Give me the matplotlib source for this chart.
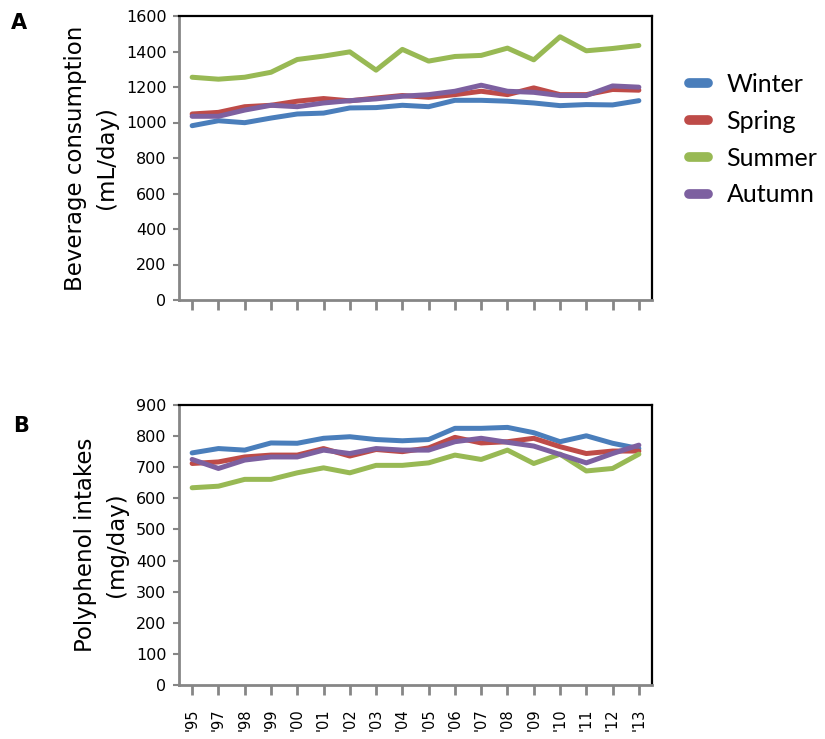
import matplotlib
matplotlib.use('Agg')
import matplotlib.pyplot as plt

plt.rcParams['font.family'] = ['DejaVu Sans']

# 数据
years = ["'95", "'97", "'98", "'99", "'00", "'01", "'02", "'03", "'04",
         "'05", "'06", "'07", "'08", "'09", "'10", "'11", "'12", "'13"]
seasons = ['Winter', 'Spring', 'Summer', 'Autumn']
colors = ['#4A7EBB', '#BE4B48', '#98B954', '#7D60A0']

beverage_winter = [982, 1010, 999, 1025, 1048, 1053, 1082, 1084, 1097, 1089, 1125, 1125, 1120, 1110, 1095, 1101, 1099, 1123]
beverage_spring = [1048, 1057, 1089, 1097, 1120, 1135, 1122, 1138, 1152, 1142, 1157, 1176, 1157, 1195, 1157, 1157, 1186, 1182]
beverage_summer = [1255, 1244, 1255, 1283, 1355, 1374, 1398, 1295, 1412, 1346, 1372, 1378, 1419, 1353, 1483, 1404, 1417, 1434]
beverage_autumn = [1035, 1035, 1070, 1097, 1089, 1110, 1123, 1133, 1148, 1157, 1176, 1210, 1176, 1170, 1152, 1152, 1206, 1199]

poly_winter = [746, 760, 755, 778, 777, 793, 798, 789, 785, 789, 825, 825, 828, 811, 782, 801, 777, 760]
poly_spring = [712, 717, 733, 739, 739, 760, 736, 757, 750, 762, 796, 778, 782, 793, 766, 744, 752, 752]
poly_summer = [634, 639, 661, 661, 682, 698, 682, 706, 706, 714, 739, 725, 755, 712, 742, 688, 696, 742]
poly_autumn = [725, 696, 723, 733, 733, 755, 744, 760, 755, 755, 782, 793, 780, 768, 741, 714, 744, 771]

W, H = 825, 739
fig = plt.figure(figsize=(W / 100, H / 100), dpi=100)
gray = '#868686'


def make_axes(px_left, px_top, px_right, px_bottom):
    ax = fig.add_axes([px_left / W, 1 - px_bottom / H,
                       (px_right - px_left) / W, (px_bottom - px_top) / H])
    for s in ['top', 'right']:
        ax.spines[s].set_color('black')
        ax.spines[s].set_linewidth(1.6)
    for s in ['left', 'bottom']:
        ax.spines[s].set_color(gray)
        ax.spines[s].set_linewidth(2)
    ax.tick_params(axis='y', direction='out', length=4, width=1.5, color=gray,
                   labelsize=11.5, pad=5)
    ax.tick_params(axis='x', direction='out', length=7, width=2, color=gray,
                   labelsize=10.5, pad=10)
    ax.set_xlim(-0.5, 17.5)
    ax.set_xticks(range(len(years)))
    return ax


# 图 A
axA = make_axes(179, 16, 652, 300)
for vals, c, lab in zip([beverage_winter, beverage_spring, beverage_summer, beverage_autumn],
                        colors, seasons):
    axA.plot(range(len(years)), vals, color=c, lw=3.6, label=lab, solid_capstyle='round')
axA.set_ylim(0, 1600)
axA.set_yticks(range(0, 1601, 200))
axA.set_xticklabels([])
axA.set_ylabel('Beverage consumption\n(mL/day)', fontsize=16.5, labelpad=6, linespacing=1.4)
leg = axA.legend(loc='upper left', bbox_to_anchor=(689 / W, 1 - 73 / H),
                 bbox_transform=fig.transFigure, frameon=False,
                 prop={'family': 'Lato', 'size': 18}, handlelength=0.75,
                 handletextpad=0.75, labelspacing=0.55, borderpad=0, borderaxespad=0)
for h in leg.get_lines():
    h.set_linewidth(7)
    h.set_solid_capstyle('round')

# 图 B
axB = make_axes(179, 405, 652, 685)
for vals, c, lab in zip([poly_winter, poly_spring, poly_summer, poly_autumn],
                        colors, seasons):
    axB.plot(range(len(years)), vals, color=c, lw=3.6, label=lab, solid_capstyle='round')
axB.set_ylim(0, 900)
axB.set_yticks(range(0, 901, 100))
axB.set_xticklabels(years, rotation=90)
axB.set_ylabel('Polyphenol intakes\n(mg/day)', fontsize=16.5, labelpad=6, linespacing=1.4)

fig.text(11 / W, 1 - 29 / H, 'A', fontsize=15, fontweight='bold')
fig.text(13 / W, 1 - 432 / H, 'B', fontsize=15, fontweight='bold')

fig.savefig('out.png', dpi=100)
